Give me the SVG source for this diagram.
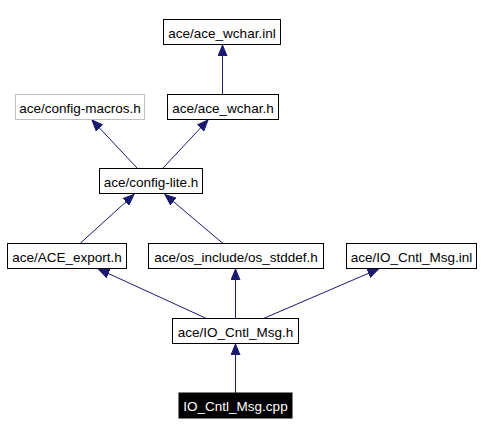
<svg xmlns="http://www.w3.org/2000/svg" width="483" height="435" viewBox="0 0 483 435">
<style>
.n rect{fill:#ffffff;stroke:#000000;stroke-width:1}
.n text{font-family:"Liberation Sans",Arial,sans-serif;font-size:13.5px;fill:#000000;text-anchor:middle}
.g rect{stroke:#bfbfbf}
.h rect{fill:#000000}
.h text{fill:#ffffff}
.e line{stroke:#191970;stroke-width:1;marker-end:url(#arr)}
</style>
<defs>
<marker id="arr" markerUnits="userSpaceOnUse" markerWidth="12" markerHeight="10" viewBox="0 -5 12 10" refX="11" refY="0" orient="auto">
<path d="M0,-4.5 L11,0 L0,4.5 z" fill="#191970" stroke="#191970" stroke-width="1"/>
</marker>
</defs>
<rect width="483" height="435" fill="#ffffff"/>
<g id="edges" class="e">
<line x1="222.5" y1="94.5" x2="222.5" y2="45"/>
<line x1="137.5" y1="168.5" x2="92" y2="120"/>
<line x1="162.5" y1="168.5" x2="208" y2="120"/>
<line x1="80" y1="243.5" x2="134" y2="194.5"/>
<line x1="223" y1="243.5" x2="165" y2="194.5"/>
<line x1="206.5" y1="318.5" x2="98.5" y2="269"/>
<line x1="235.5" y1="318.5" x2="235.5" y2="269"/>
<line x1="263.5" y1="318.5" x2="378.5" y2="269"/>
<line x1="235.5" y1="393" x2="235.5" y2="344"/>
</g>
<g id="ace_wchar_inl" class="n"><rect x="163.5" y="19.5" width="117" height="25"/><text x="222" y="37.5">ace/ace_wchar.inl</text></g>
<g id="config_macros" class="n g"><rect x="15.5" y="94.5" width="129" height="25"/><text x="80" y="112.5">ace/config-macros.h</text></g>
<g id="ace_wchar_h" class="n"><rect x="167.5" y="94.5" width="111" height="25"/><text x="223" y="112.5">ace/ace_wchar.h</text></g>
<g id="config_lite" class="n"><rect x="99.5" y="168.5" width="103" height="25"/><text x="151" y="186.5">ace/config-lite.h</text></g>
<g id="ace_export" class="n"><rect x="7.5" y="243.5" width="119" height="25"/><text x="67" y="261.5">ace/ACE_export.h</text></g>
<g id="os_stddef" class="n"><rect x="148.5" y="243.5" width="175" height="25"/><text x="236" y="261.5">ace/os_include/os_stddef.h</text></g>
<g id="io_cntl_msg_inl" class="n"><rect x="346.5" y="243.5" width="130" height="25"/><text x="411.5" y="261.5">ace/IO_Cntl_Msg.inl</text></g>
<g id="io_cntl_msg_h" class="n"><rect x="172.5" y="318.5" width="126" height="25"/><text x="235.5" y="336.5">ace/IO_Cntl_Msg.h</text></g>
<g id="io_cntl_msg_cpp" class="n h"><rect x="179" y="393" width="113" height="25"/><text x="235.5" y="411">IO_Cntl_Msg.cpp</text></g>
</svg>
